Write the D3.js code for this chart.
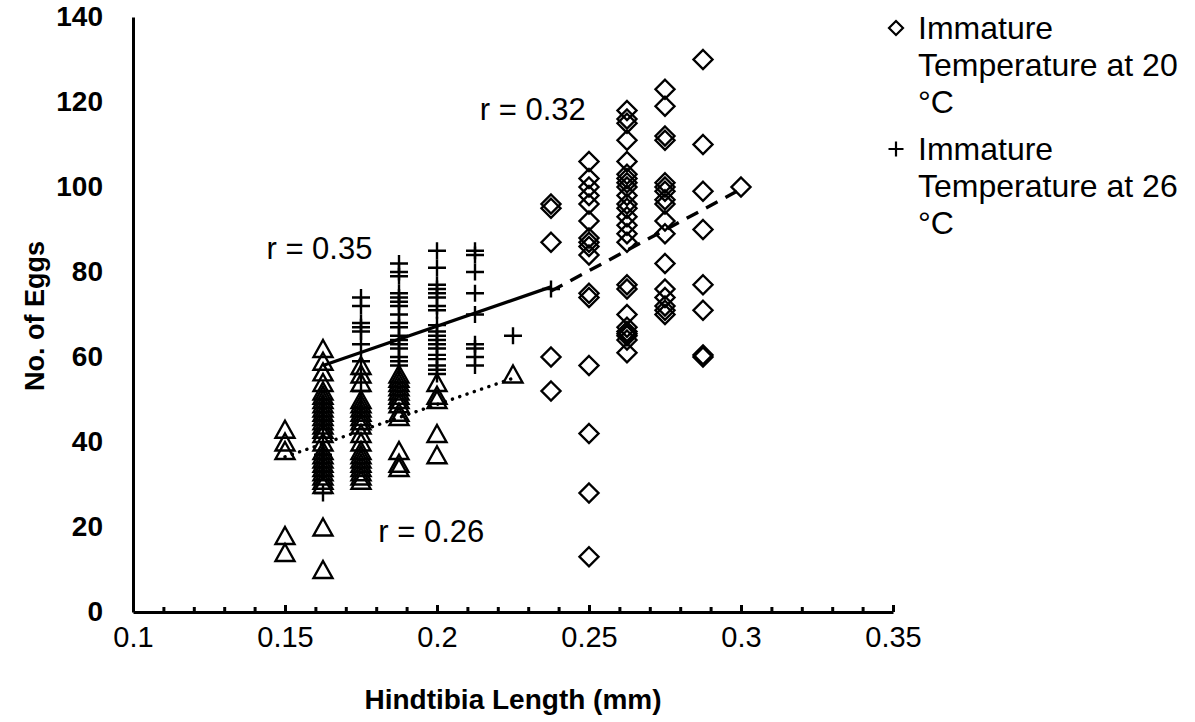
<!DOCTYPE html>
<html>
<head>
<meta charset="utf-8">
<script src="https://cdn.jsdelivr.net/npm/d3@7/dist/d3.min.js"></script>
<style>
  html, body { margin: 0; padding: 0; background: #fff; }
  svg { display: block; font-family: "Liberation Sans", Arial, sans-serif; }
</style>
</head>
<body>
<svg id="chart" width="1195" height="722"></svg>
<script>
// ---------- data ----------
const xTicks = [0.1, 0.15, 0.2, 0.25, 0.3, 0.35];
const xMinorTicks = d3.range(11, 35).map(d => d / 100);
const yTicks = [0, 20, 40, 60, 80, 100, 120, 140];

// Immature temperature at 20 °C (diamonds)
const cols20 = [0.2375, 0.25, 0.2625, 0.275, 0.2875, 0.3];
const eggs20 = [
  [96, 95, 87, 60, 52],
  [106, 102, 100, 98, 96, 92, 88, 87, 86, 84, 75, 74, 58, 42, 28, 13],
  [118, 116, 115, 111, 106, 103, 102, 101, 100, 98, 96, 95, 93, 91, 89, 87, 77, 76, 70, 67, 66, 65.5, 65, 64, 61],
  [123, 119, 112, 111, 101, 100, 99, 97, 96, 92, 89, 82, 76, 74, 72, 71, 70],
  [130, 110, 99, 90, 77, 71, 60.5, 60],
  [100]
];

// Immature temperature at 26 °C (plus)
const cols26 = [0.1625, 0.175, 0.1875, 0.2, 0.2125, 0.225, 0.2375];
const eggs26 = [
  [28, 33, 37, 41, 45, 49],
  [74, 72, 68, 67, 66, 63, 59, 56, 52, 48],
  [82, 80, 79, 75, 74, 73, 72, 70, 68, 67, 65, 64, 63, 62, 60, 59, 58],
  [85, 81, 77, 76, 75, 74, 72, 71, 67.5, 66, 65, 64, 63, 62, 60.5, 59.5, 58, 57, 56],
  [85, 84, 80, 75, 70, 63, 62, 60, 58],
  [65],
  [76]
];

// third series (triangles, not in legend)
const colsT = [0.15, 0.1625, 0.175, 0.1875, 0.2, 0.225];
const eggsT = [
  [43, 40, 38, 18, 14],
  [62, 59, 56.5, 54, 52, 51, 50, 49, 48, 47, 46, 45, 44, 43, 42, 40, 38, 37, 36, 35, 34, 33, 32, 31, 30, 20, 10],
  [58, 56, 54, 50, 49, 48, 47, 46, 45, 44, 42, 40, 38, 37, 36, 35, 34, 33, 32, 31],
  [56, 55, 54, 53, 52, 51, 50, 49, 47, 46, 38, 35, 34],
  [54, 51, 50, 42, 37],
  [56]
];

// trend lines (end points)
const trend20 = [[0.2375, 75.5], [0.3, 99.5]];
const trend26 = [[0.1625, 58], [0.2375, 76.5]];
const trendT  = [[0.15, 36.5], [0.225, 55]];

const rLabels = [
  { text: "r = 0.32", x: 0.2141, y: 115.8 },
  { text: "r = 0.35", x: 0.1439, y: 83 },
  { text: "r = 0.26", x: 0.1807, y: 16.5 }
];
const legendItems = [
  { shape: "diamond", lines: ["Immature", "Temperature at 20", "°C"] },
  { shape: "plus", lines: ["Immature", "Temperature at 26", "°C"] }
];

// ---------- layout ----------
const svg = d3.select("#chart");
const x = d3.scaleLinear().domain([0.1, 0.35]).range([133, 893]);
const y = d3.scaleLinear().domain([0, 140]).range([612, 17]);

const flat = (cols, vals) => cols.flatMap((c, i) => vals[i].map(v => ({ x: c, y: v })));

const diamondPath = r => `M0,${-r}L${r},0L0,${r}L${-r},0Z`;
const trianglePath = (w, h) => `M0,${-h / 2}L${w / 2},${h / 2}L${-w / 2},${h / 2}Z`;
const plusPath = (w, h) => `M${-w / 2},0H${w / 2}M0,${-h / 2}V${h / 2}`;

// markers
const marks = svg.append("g").attr("fill", "none").attr("stroke", "#000").attr("stroke-width", 2.4);

marks.selectAll(".tri").data(flat(colsT, eggsT)).join("path")
  .attr("class", "tri")
  .attr("d", trianglePath(19, 17))
  .attr("transform", d => `translate(${x(d.x)},${y(d.y)})`);

marks.selectAll(".plus").data(flat(cols26, eggs26)).join("path")
  .attr("class", "plus")
  .attr("d", plusPath(18, 17))
  .attr("transform", d => `translate(${x(d.x)},${y(d.y)})`);

marks.selectAll(".dia").data(flat(cols20, eggs20)).join("path")
  .attr("class", "dia")
  .attr("d", diamondPath(9.5))
  .attr("transform", d => `translate(${x(d.x)},${y(d.y)})`);

// trend lines
const line = d3.line().x(d => x(d[0])).y(d => y(d[1]));
svg.append("path").attr("d", line(trend26)).attr("fill", "none")
  .attr("stroke", "#000").attr("stroke-width", 3.2);
svg.append("path").attr("d", line(trend20)).attr("fill", "none")
  .attr("stroke", "#000").attr("stroke-width", 3.4).attr("stroke-dasharray", "13 9");
svg.append("path").attr("d", line(trendT)).attr("fill", "none")
  .attr("stroke", "#000").attr("stroke-width", 3.4).attr("stroke-linecap", "round")
  .attr("stroke-dasharray", "0.1 7.6");

// axes
const yAxis = svg.append("g").attr("transform", `translate(${x(0.1)},0)`)
  .call(d3.axisLeft(y).tickValues(yTicks).tickSize(0).tickSizeOuter(0).tickPadding(30));
yAxis.select(".domain").attr("stroke-width", 3);
yAxis.selectAll("text").attr("font-size", 28).attr("font-weight", "bold")
  .attr("font-family", "Liberation Sans, Arial, sans-serif").attr("fill", "#000");

const xMinor = svg.append("g").attr("transform", `translate(0,${y(0)})`)
  .call(d3.axisBottom(x).tickValues(xMinorTicks).tickSize(-5).tickSizeOuter(0).tickFormat(""));
xMinor.select(".domain").remove();
xMinor.selectAll("line").attr("stroke-width", 3);

const xAxis = svg.append("g").attr("transform", `translate(0,${y(0)})`)
  .call(d3.axisBottom(x).tickValues(xTicks).tickSize(-7).tickSizeOuter(0).tickPadding(14)
    .tickFormat(d3.format("~g")));
xAxis.select(".domain").attr("stroke-width", 3);
xAxis.selectAll("line").attr("stroke-width", 3);
xAxis.selectAll("text").attr("font-size", 29)
  .attr("font-family", "Liberation Sans, Arial, sans-serif").attr("fill", "#000");

// axis titles
svg.append("text").attr("x", 513).attr("y", 709).attr("text-anchor", "middle")
  .attr("font-size", 28).attr("font-weight", "bold").text("Hindtibia Length (mm)");
svg.append("text").attr("transform", "translate(44,316) rotate(-90)").attr("text-anchor", "middle")
  .attr("font-size", 27).attr("font-weight", "bold").text("No. of Eggs");

// r labels
svg.selectAll(".rlab").data(rLabels).join("text").attr("class", "rlab")
  .attr("x", d => x(d.x)).attr("y", d => y(d.y)).attr("font-size", 31).text(d => d.text);

// legend
const leg = svg.append("g");
legendItems.forEach((item, i) => {
  const top = 28 + i * 121;
  const g = leg.append("g").attr("transform", `translate(0,${top})`);
  if (item.shape === "diamond") {
    g.append("path").attr("d", diamondPath(7)).attr("transform", "translate(896,0)")
      .attr("fill", "none").attr("stroke", "#000").attr("stroke-width", 2.2);
  } else {
    g.append("path").attr("d", plusPath(15, 15)).attr("transform", "translate(896,0)")
      .attr("fill", "none").attr("stroke", "#000").attr("stroke-width", 2.2);
  }
  item.lines.forEach((t, j) => {
    g.append("text").attr("x", 918).attr("y", j * 37 + 11).attr("font-size", 32).text(t);
  });
});
</script>
</body>
</html>
